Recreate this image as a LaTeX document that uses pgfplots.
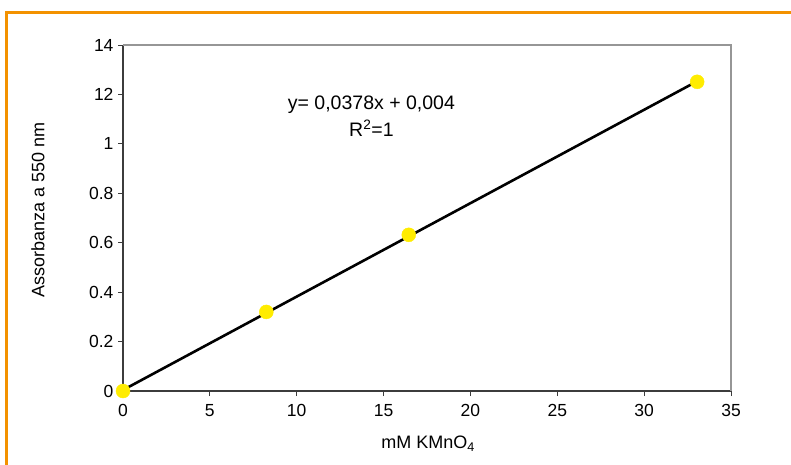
\documentclass[border=0pt]{standalone}
\usepackage{fontspec}
\setmainfont{Liberation Sans}
\usepackage{pgfplots}
\pgfplotsset{compat=1.18}

\definecolor{frameorange}{RGB}{243,146,0}
\definecolor{markyellow}{RGB}{255,236,0}
\definecolor{axisdark}{RGB}{60,60,60}
\definecolor{axisgray}{RGB}{150,150,150}

\begin{document}
\begin{tikzpicture}[x=1pt,y=1pt]
\useasboundingbox (0,0) rectangle (791,464);
% orange frame (only top and left visible)
\draw[frameorange, line width=3pt] (6,-2) -- (6,451) -- (793,451);

\begin{axis}[
  at={(123pt,73pt)}, anchor=south west,
  scale only axis,
  width=608pt, height=346pt,
  xmin=0, xmax=35, ymin=0, ymax=1.4,
  axis x line*=bottom, axis y line*=left,
  axis line style={axisdark, line width=1.2pt, -},
  xtick={0,5,...,35},
  xticklabels={0,5,10,15,20,25,30,35},
  ytick={0,0.2,...,1.4},
  yticklabels={0,0.2,0.4,0.6,0.8,1,12,14},
  tick align=outside,
  major tick length=5pt,
  tick style={axisdark, line width=0.8pt},
  ticklabel style={font=\fontsize{17.5}{20}\selectfont},
  /pgf/number format/assume math mode=true,
  xticklabel style={yshift=-5pt},
  yticklabel style={xshift=-1pt},
  xlabel={mM KMnO\textsubscript{4}},
  ylabel={Assorbanza a 550 nm},
  label style={font=\fontsize{18}{21}\selectfont},
  xlabel style={at={(axis description cs:0.502,-0.152)}, anchor=center},
  ylabel style={at={(axis description cs:-0.14,0.523)}, anchor=center},
  clip=false,
]
% frame top and right in grey
\draw[axisgray, line width=1.2pt] (rel axis cs:0,1) -- (rel axis cs:1,1) -- (rel axis cs:1,0);

% linear trend y = 0.0378x + 0.004
\addplot[black, line width=2.6pt] coordinates {(0,0.004) (33,1.2514)};

\addplot[only marks, mark=*, mark size=7pt, mark options={fill=markyellow, draw=markyellow}]
  coordinates {(0,0) (8.25,0.32) (16.45,0.632) (33.05,1.251)};

\node[font=\fontsize{19.5}{27}\selectfont, align=center] at (axis cs:14.3,1.11)
  {y= 0,0378x + 0,004\\ R\textsuperscript{2}=1};
\end{axis}
\end{tikzpicture}
\end{document}
